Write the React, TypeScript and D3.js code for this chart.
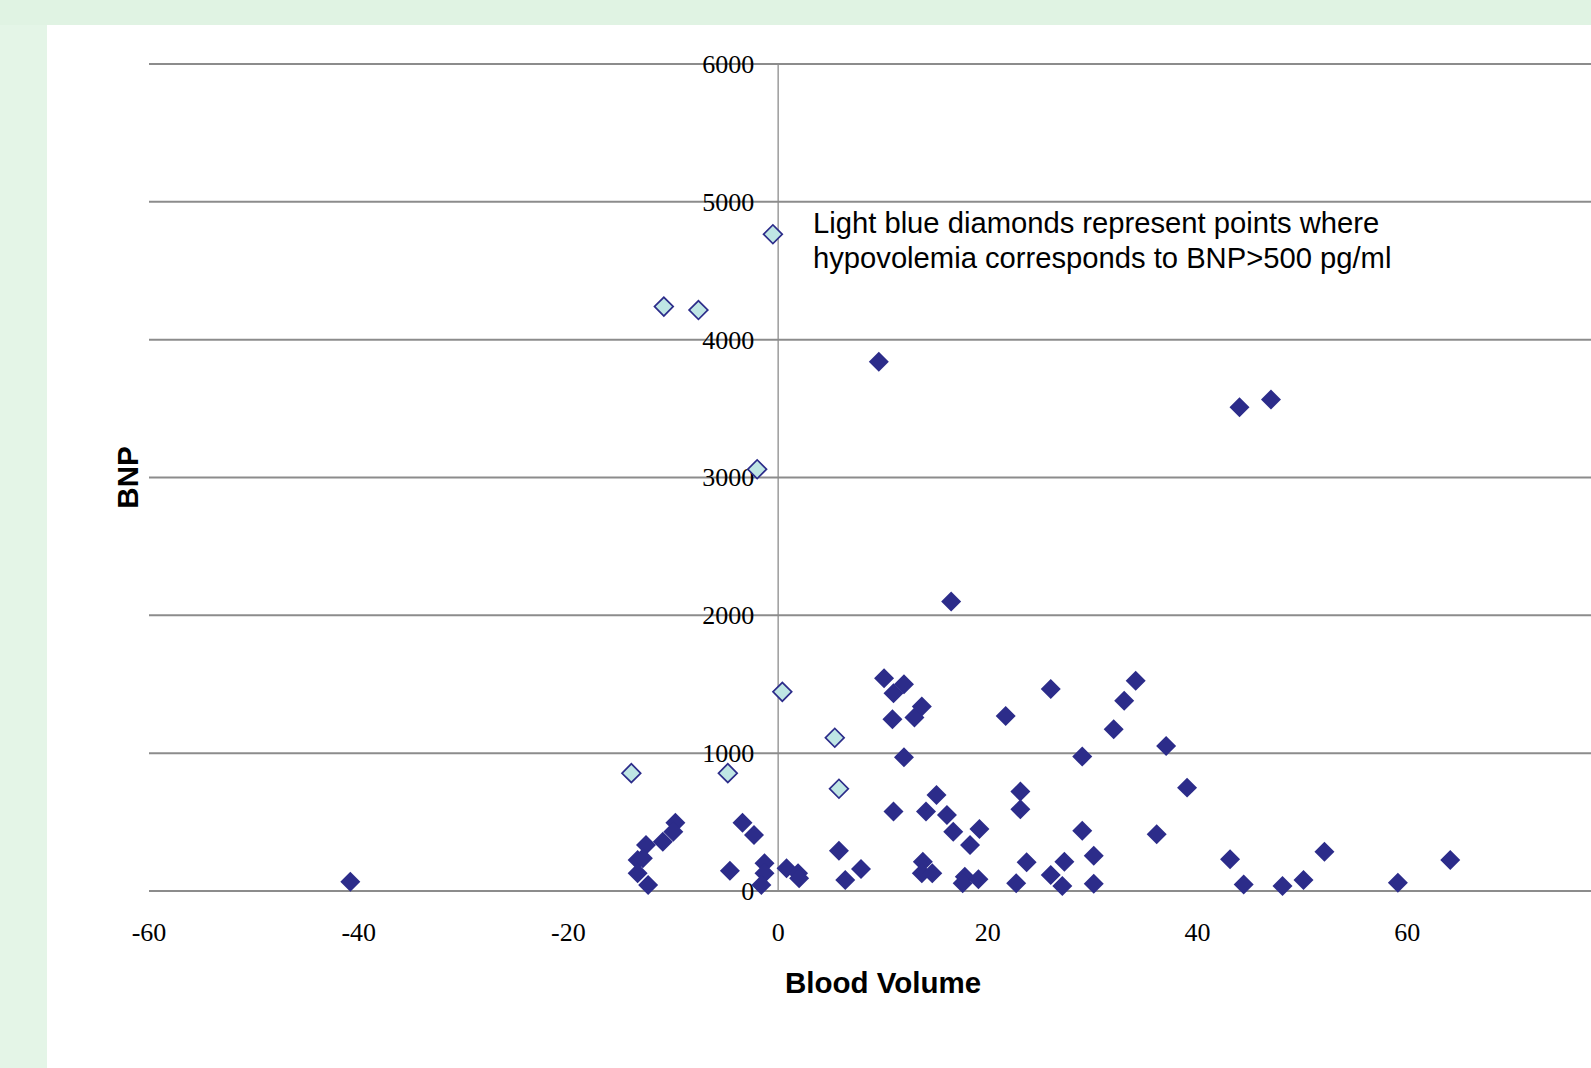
import React from 'react';
import * as d3 from 'd3';

// Blood volume (x) vs BNP (y)
const hypoX = [-0.5, -10.9, -7.6, -2.0, 0.4, 5.4, 5.8, -14.0, -4.8];
const hypoY = [4765, 4240, 4215, 3060, 1445, 1112, 742, 855, 855];

const otherX = [
  9.6, 16.5, 44.0, 47.0, -40.8,
  10.1, 11.0, 12.0, 10.9, 13.0, 13.7, 21.7, 26.0, 34.1, 33.0, 32.0, 37.0, 12.0, 29.0, 39.0,
  11.0, 15.1, 14.1, 16.1, 16.7, 19.2, 18.3, 23.1, 23.1, 29.0, 36.1, 30.1, 27.3, 23.7, 13.8,
  13.7, 14.7, 17.8, 17.6, 19.1, 22.7, 26.0, 27.1, 30.1,
  5.8, 7.9, 6.4,
  43.1, 52.1, 64.1, 44.4, 48.1, 50.1, 59.1,
  -9.8, -10.0, -11.0, -12.6, -13.4, -12.9, -13.4, -12.4,
  -3.4, -2.3, -4.6, -1.3, -1.3, -1.6, 0.8, 1.9, 2.0,
];
const otherY = [
  3840, 2100, 3510, 3565, 67,
  1543, 1435, 1500, 1246, 1258, 1338, 1270, 1466, 1526, 1381, 1173, 1052, 970, 975, 750,
  576, 697, 576, 552, 430, 450, 334, 721, 593, 438, 411, 256, 213, 208, 213,
  128, 128, 104, 56, 85, 56, 116, 36, 53,
  292, 160, 80,
  230, 285, 225, 48, 36, 80, 60,
  496, 430, 358, 334, 225, 237, 128, 44,
  496, 406, 147, 201, 128, 44, 165, 128, 92,
];

const xTicks = [-60, -40, -20, 0, 20, 40, 60];
const yTicks = [0, 1000, 2000, 3000, 4000, 5000, 6000];

const note = [
  'Light blue diamonds represent points where',
  'hypovolemia corresponds to BNP>500 pg/ml',
];

const W = 1591;
const H = 1068;

export default function App() {
  const x = d3.scaleLinear().domain([-60, 80]).range([149, 1617]);
  const y = d3.scaleLinear().domain([0, 6000]).range([891, 64]);
  const diamond = d3.symbol().type(d3.symbolSquare).size(200)();
  const hollow = d3.symbol().type(d3.symbolSquare).size(175)();

  return (
    <div style={{ position: 'absolute', left: 0, top: 0 }}>
      <svg width={W} height={H} style={{ display: 'block' }}>
        <rect x={0} y={0} width={W} height={H} fill="#e4f5e7" />
        <rect x={0} y={0} width={W} height={25} fill="#e0f3e3" />
        <rect x={47} y={25} width={W - 47} height={H - 25} fill="#ffffff" />

        {/* gridlines */}
        {yTicks.map((t) => (
          <line
            key={t}
            x1={x(-60)}
            x2={x(80)}
            y1={y(t)}
            y2={y(t)}
            stroke="#8c8c8c"
            strokeWidth={2}
          />
        ))}
        {/* y axis at x = 0 */}
        <line x1={x(0)} x2={x(0)} y1={y(6000)} y2={y(0)} stroke="#8c8c8c" strokeWidth={1.3} />

        {/* y tick labels */}
        {yTicks.map((t) => (
          <text
            key={t}
            x={x(0) - 24}
            y={y(t) + 3}
            textAnchor="end"
            dominantBaseline="middle"
            fontFamily="'Liberation Serif', 'Times New Roman', serif"
            fontSize={26}
            fill="#000"
          >
            {t}
          </text>
        ))}
        {/* x tick labels */}
        {xTicks.map((t) => (
          <text
            key={t}
            x={x(t)}
            y={941}
            textAnchor="middle"
            fontFamily="'Liberation Serif', 'Times New Roman', serif"
            fontSize={26}
            fill="#000"
          >
            {t}
          </text>
        ))}

        {/* axis titles */}
        <text
          x={(x(-60) + x(80)) / 2}
          y={993}
          textAnchor="middle"
          fontFamily="'Liberation Sans', Arial, sans-serif"
          fontWeight="bold"
          fontSize={29.5}
          fill="#000"
        >
          Blood Volume
        </text>
        <text
          transform={`translate(138,${(y(0) + y(6000)) / 2}) rotate(-90)`}
          textAnchor="middle"
          fontFamily="'Liberation Sans', Arial, sans-serif"
          fontWeight="bold"
          fontSize={29.5}
          fill="#000"
        >
          BNP
        </text>

        {/* annotation */}
        <text
          x={813}
          y={233}
          fontFamily="'Liberation Sans', Arial, sans-serif"
          fontSize={29.2}
          fill="#000"
        >
          {note.map((s, i) => (
            <tspan key={i} x={813} dy={i === 0 ? 0 : 35}>
              {s}
            </tspan>
          ))}
        </text>

        {/* points */}
        {otherX.map((v, i) => (
          <path
            key={'o' + i}
            d={diamond}
            transform={`translate(${x(v)},${y(otherY[i])}) rotate(45)`}
            fill="#2c2c8a"
          />
        ))}
        {hypoX.map((v, i) => (
          <path
            key={'h' + i}
            d={hollow}
            transform={`translate(${x(v)},${y(hypoY[i])}) rotate(45)`}
            fill="#bfe6e4"
            stroke="#2c2c8a"
            strokeWidth={1.7}
          />
        ))}
      </svg>
    </div>
  );
}
